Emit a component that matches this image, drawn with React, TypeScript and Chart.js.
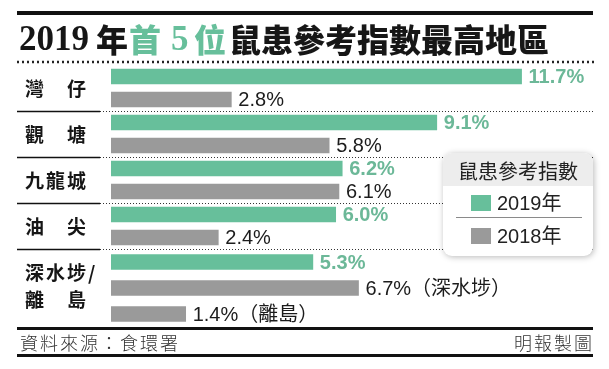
import React, { useEffect, useRef } from "react";
import { Chart, registerables } from "chart.js";

Chart.register(...registerables);

// ---------------- data ----------------
const topRegions = ["灣　仔", "觀　塘", "九龍城", "油　尖"];
const top2019 = [11.7, 9.1, 6.2, 6.0];
const top2018 = [2.8, 5.8, 6.1, 2.4];

const lastRegionLines = ["深水埗/", "離　島"];
const last2019 = [5.3];
const last2018ShamShuiPo = [6.7];
const last2018Islands = [1.4];
const lastNotes = ["", "（深水埗）", "（離島）"];

const seriesLabels = ["2019年", "2018年"];
const legendTitle = "鼠患參考指數";

const titleTexts = ["2019", "年", "首", "5", "位", "鼠患參考指數最高地區"];
const titleHighlight = [false, false, true, true, true, false];

const sourceText = "資料來源：食環署";
const creditText = "明報製圖";

// ---------------- style ----------------
const GREEN = "#67bf9b";
const GREEN_TEXT = "#6cb898";
const GREY = "#9a9a9a";
const DARK = "#1c1c1c";
const X_MIN = -0.89;
const X_MAX = 13.89;
const CJK = "'Noto Sans CJK TC', 'Noto Sans CJK SC', sans-serif";
const SANS = "'Liberation Sans', Arial, " + CJK;

const fmt = (v: number) => v.toFixed(1) + "%";

// slot tables built from the named arrays
const topSlotLabels = topRegions.flatMap((r) => [r + " " + seriesLabels[0], r + " " + seriesLabels[1]]);
const topSlotValues = topRegions.flatMap((_, i) => [top2019[i], top2018[i]]);
const topSlotIsCurrent = topRegions.flatMap(() => [true, false]);
const topSlotNotes = topRegions.flatMap(() => ["", ""]);

const lastSlotLabels = [
  lastRegionLines.join("") + " " + seriesLabels[0],
  lastRegionLines.join("") + " " + seriesLabels[1] + lastNotes[1],
  lastRegionLines.join("") + " " + seriesLabels[1] + lastNotes[2],
];
const lastSlotValues = [last2019[0], last2018ShamShuiPo[0], last2018Islands[0]];
const lastSlotIsCurrent = [true, false, false];
const lastSlotNotes = lastNotes;

const decorPlugin = {
  id: "decor",
  beforeDatasetsDraw(chart: any) {
    const ctx: CanvasRenderingContext2D = chart.ctx;
    const yTop = chart.scales.yTop;
    const slot = yTop.getPixelForValue(1) - yTop.getPixelForValue(0);
    ctx.save();
    for (let i = 0; i < topRegions.length; i++) {
      const y = Math.round(yTop.getPixelForValue(2 * i + 1) + slot / 2) + 0.5;
      ctx.setLineDash([]);
      ctx.strokeStyle = "#111";
      ctx.lineWidth = 1.5;
      ctx.beginPath();
      ctx.moveTo(17, y);
      ctx.lineTo(100, y);
      ctx.stroke();
      ctx.setLineDash([1, 2]);
      ctx.strokeStyle = "#333";
      ctx.lineWidth = 1;
      ctx.beginPath();
      ctx.moveTo(100, y);
      ctx.lineTo(593, y);
      ctx.stroke();
    }
    ctx.restore();
  },
  afterDatasetsDraw(chart: any) {
    const ctx: CanvasRenderingContext2D = chart.ctx;
    const yTop = chart.scales.yTop;
    const yLast = chart.scales.yLast;
    const area = chart.chartArea;
    ctx.save();

    // ---- title ----
    ctx.fillStyle = "#111";
    ctx.fillRect(17, 11, 576, 4);
    ctx.textBaseline = "middle";
    const titleX = [19, 96, 129, 171, 194, 229];
    titleTexts.forEach((t, i) => {
      const isDigit = /^[0-9]+$/.test(t);
      ctx.font = isDigit
        ? "bold 35px 'Liberation Serif', 'DejaVu Serif', serif"
        : "900 32px " + CJK;
      ctx.fillStyle = titleHighlight[i] ? GREEN : "#161616";
      ctx.fillText(t, titleX[i], isDigit ? 41 : 40);
    });
    ctx.setLineDash([2, 3]);
    ctx.strokeStyle = "#222";
    ctx.lineWidth = 2.5;
    ctx.beginPath();
    ctx.moveTo(17, 62);
    ctx.lineTo(594, 62);
    ctx.stroke();
    ctx.setLineDash([]);

    // ---- left labels ----
    ctx.fillStyle = "#161616";
    ctx.font = "bold 19px " + CJK;
    (ctx as any).letterSpacing = "2px";
    ctx.textAlign = "left";
    topRegions.forEach((r, i) => {
      const y = (yTop.getPixelForValue(2 * i) + yTop.getPixelForValue(2 * i + 1)) / 2;
      ctx.fillText(r, 25, y + 1);
    });
    const cy = yLast.getPixelForValue(1);
    ctx.fillText(lastRegionLines[0], 25, cy - 15);
    ctx.fillText(lastRegionLines[1], 25, cy + 12);
    (ctx as any).letterSpacing = "0px";

    // ---- value labels ----
    chart.data.datasets.forEach((ds: any, d: number) => {
      const meta = chart.getDatasetMeta(d);
      meta.data.forEach((bar: any, i: number) => {
        const v = ds.data[i];
        if (v === null || v === undefined) return;
        const green = ds.isCurrent[i];
        ctx.font = (green ? "bold 20px " : "20px ") + SANS;
        ctx.fillStyle = green ? GREEN_TEXT : DARK;
        ctx.fillText(fmt(v) + (ds.notes[i] || ""), bar.x + 7, bar.y + 1);
      });
    });

    // ---- footer ----
    ctx.fillStyle = "#111";
    ctx.fillRect(17, area.bottom, 576, 3);
    ctx.fillRect(17, 354, 576, 3);
    ctx.fillStyle = "#333";
    ctx.font = "300 18px " + CJK;
    (ctx as any).letterSpacing = "2px";
    ctx.textAlign = "left";
    ctx.fillText(sourceText, 20, 343);
    ctx.textAlign = "right";
    ctx.fillText(creditText, 594, 343);
    (ctx as any).letterSpacing = "0px";

    // ---- legend ----
    const lx = 443, ly = 153, lw = 150, lh = 103;
    ctx.save();
    ctx.shadowColor = "rgba(0,0,0,0.28)";
    ctx.shadowBlur = 6;
    ctx.shadowOffsetX = 1;
    ctx.shadowOffsetY = 1;
    ctx.fillStyle = "#ffffff";
    ctx.beginPath();
    (ctx as any).roundRect(lx, ly, lw, lh, 9);
    ctx.fill();
    ctx.restore();
    ctx.save();
    ctx.beginPath();
    (ctx as any).roundRect(lx, ly, lw, lh, 9);
    ctx.clip();
    ctx.fillStyle = "#ededed";
    ctx.fillRect(lx, ly, lw, 33);
    ctx.restore();
    ctx.textAlign = "center";
    ctx.fillStyle = "#222";
    ctx.font = "20px " + CJK;
    ctx.fillText(legendTitle, lx + lw / 2, ly + 18);
    ctx.textAlign = "left";
    ctx.font = "20px " + SANS;
    const colors = [GREEN, GREY];
    const rowY = [203, 236];
    seriesLabels.forEach((s, i) => {
      ctx.fillStyle = colors[i];
      ctx.fillRect(471, rowY[i] - 8, 20, 16);
      ctx.fillStyle = "#222";
      ctx.fillText(s, 497, rowY[i] + 1);
    });
    ctx.strokeStyle = "#8a8a8a";
    ctx.lineWidth = 1;
    ctx.beginPath();
    ctx.moveTo(456, 217.5);
    ctx.lineTo(582, 217.5);
    ctx.stroke();

    ctx.restore();
  },
};

export default function App() {
  const ref = useRef<HTMLCanvasElement | null>(null);
  useEffect(() => {
    if (!ref.current) return;
    const common = {
      grouped: false,
      categoryPercentage: 1,
      barPercentage: 1,
      maxBarThickness: 15,
      base: X_MIN,
    };
    const chart = new Chart(ref.current, {
      type: "bar",
      data: {
        datasets: [
          {
            label: topRegions.join("、"),
            data: topSlotValues,
            backgroundColor: topSlotIsCurrent.map((c) => (c ? GREEN : GREY)),
            isCurrent: topSlotIsCurrent,
            notes: topSlotNotes,
            yAxisID: "yTop",
            ...common,
          } as any,
          {
            label: lastRegionLines.join(""),
            data: lastSlotValues,
            backgroundColor: lastSlotIsCurrent.map((c) => (c ? GREEN : GREY)),
            isCurrent: lastSlotIsCurrent,
            notes: lastSlotNotes,
            yAxisID: "yLast",
            ...common,
          } as any,
        ],
      },
      options: {
        indexAxis: "y",
        responsive: false,
        animation: false,
        devicePixelRatio: 1,
        layout: { padding: { left: 111, right: 16, top: 65, bottom: 42 } },
        scales: {
          x: { type: "linear", min: X_MIN, max: X_MAX, display: false },
          yTop: {
            type: "category",
            labels: topSlotLabels,
            position: "right",
            stack: "rows",
            stackWeight: 184,
            offset: true,
            display: false,
          },
          yLast: {
            type: "category",
            labels: lastSlotLabels,
            position: "right",
            stack: "rows",
            stackWeight: 78,
            offset: true,
            display: false,
          },
        } as any,
        plugins: {
          legend: { display: false },
          tooltip: { enabled: false },
        },
      },
      plugins: [decorPlugin],
    });
    return () => chart.destroy();
  }, []);
  return (
    <div style={{ position: "fixed", left: 0, top: 0, width: 609, height: 369, background: "#fff" }}>
      <canvas ref={ref} width={609} height={369} />
    </div>
  );
}
